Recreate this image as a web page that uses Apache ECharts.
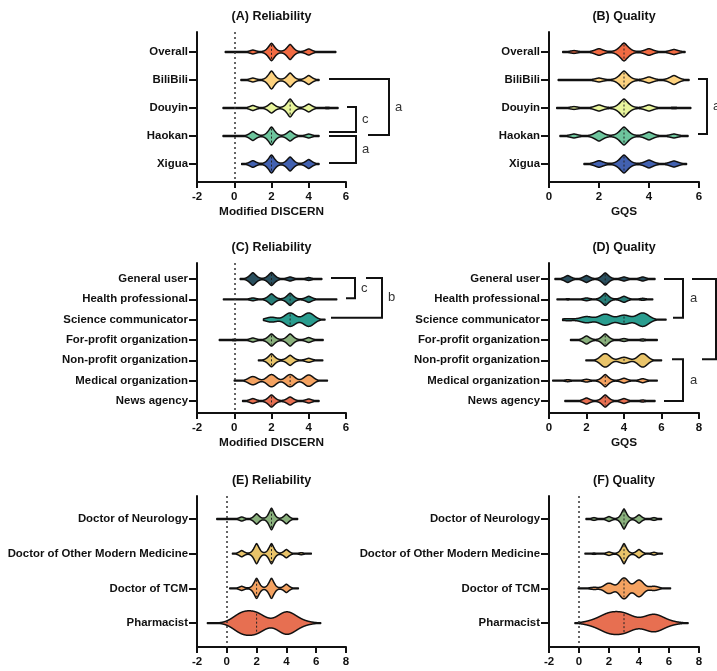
<!DOCTYPE html>
<html><head><meta charset="utf-8">
<script src="https://cdn.jsdelivr.net/npm/echarts@6/dist/echarts.min.js"></script>
<style>html,body{margin:0;padding:0;background:#fff}#c{width:717px;height:671px}</style>
</head><body><div id="c"></div>
<script>
// ---------- DATA ----------
// peak arrays: relative density at scores 0..6 (in row units)
const catsA = ['Overall','BiliBili','Douyin','Haokan','Xigua'];
const rangeA = [[-0.48,5.45],[0.36,4.55],[-0.6,5.57],[-0.6,4.55],[0.4,4.55]];
const peaksA = [
  [0,.07,.31,.27,.11,0,0],
  [0,.07,.32,.25,.16,0,0],
  [0,.09,.18,.32,.14,.03,0],
  [0,.16,.32,.18,.07,0,0],
  [0,.12,.32,.25,.16,0,0]];
const medianA = [2,2.5,3,2,2];
const bwA = [.25,.25,.25,.25,.25];

const catsB = catsA;
const rangeB = [[0.55,5.44],[0.37,5.6],[0.31,5.67],[0.44,5.56],[1.4,5.5]];
const peaksB = [
  [0,.05,.12,.32,.12,.09,0],
  [0,.02,.07,.32,.11,.16,0],
  [0,.05,.11,.32,.11,.03,0],
  [0,.07,.18,.32,.14,.07,0],
  [0,0,.12,.32,.14,.11,0]];
const medianB = [3,3,3,3,3];
const bwB = [.25,.25,.25,.25,.25];

const catsC = ['General user','Health professional','Science communicator','For-profit organization','Non-profit organization','Medical organization','News agency'];
const rangeC = [[0.32,4.7],[-0.58,5.5],[1.57,4.87],[-0.8,4.77],[1.3,4.75],[0,5.0],[0.45,4.55]];
const peaksC = [
  [0,.31,.32,.1,.07,0,0],
  [0,.07,.27,.3,.15,0,0],
  [0,0,.12,.33,.33,0,0],
  [.04,.1,.3,.3,.12,0,0],
  [0,0,.32,.25,.1,0,0],
  [0,.2,.3,.3,.28,0,0],
  [0,.12,.3,.2,.1,0,0]];
const medianC = [2,3,3,2,2,3,2];
const bwC = [.25,.25,.4,.25,.25,.33,.25];

const catsD = catsC;
const rangeD = [[0.32,5.65],[0.43,5.53],[0.73,6.24],[1.15,5.77],[1.97,6.0],[0.2,5.77],[0.85,5.65]];
const peaksD = [
  [0,.17,.17,.3,.1,.1,0],
  [0,.03,.07,.3,.15,.05,0],
  [0,.05,.15,.27,.22,.33,0],
  [0,0,.2,.3,.07,.05,0],
  [0,0,0,.33,.15,.33,0],
  [0,.05,.07,.3,.12,.1,0],
  [0,0,.15,.3,.12,.05,0]];
const medianD = [3,3,4,3,4,3,3];
const bwD = [.25,.25,.45,.25,.35,.25,.25];

const catsE = ['Doctor of Neurology','Doctor of Other Modern Medicine','Doctor of TCM','Pharmacist'];
const rangeE = [[-0.67,4.75],[0.38,5.67],[0.2,4.8],[-1.3,6.3]];
const peaksE = [
  [0,.06,.15,.31,.14,0,0],
  [0,.09,.29,.29,.12,.03,0],
  [0,.06,.29,.29,.12,0,0],
  [0,.25,.25,0,.31,.05,0]];
const medianE = [3,3,2,2];
const bwE = [.25,.25,.25,.85];

const catsF = catsE;
const rangeF = [[0.47,5.5],[0.4,5.56],[-0.05,6.1],[-0.27,7.27]];
const peaksF = [
  [0,.04,.07,.29,.12,.04,0],
  [0,.02,.05,.29,.12,.04,0],
  [0,.03,.15,.3,.24,.06,0],
  [0,.06,.23,.23,.05,.23,.04]];
const medianF = [3,3,3,3];
const bwF = [.25,.25,.42,.85];

const xTicksAC = [-2, 6];   // min, max
const xTicksB = [0, 6];
const xTicksD = [0, 8];
const xTicksEF = [-2, 8];

// ---------- STYLES ----------
const colA = ['#F26B43','#FDD27F','#E8F59C','#6DC59D','#4261B0'];
const colC = ['#2A4F5E','#287E78','#2A9D8F','#8AB17D','#E9C46A','#F4A261','#E76F51'];
const colE = ['#8AB17D','#E9C46A','#F4A261','#E76F51'];
const FONT = "'Liberation Sans', Arial, sans-serif";

const panels = [
  {cats:catsA, range:rangeA, peaks:peaksA, med:medianA, bw:bwA, col:colA, x:xTicksAC, title:'(A) Reliability', name:'Modified DISCERN', zero:true,
   grid:{left:197, top:32, width:149, height:150}, ymin:-0.714, ymax:4.643},
  {cats:catsB, range:rangeB, peaks:peaksB, med:medianB, bw:bwB, col:colA, x:xTicksB, title:'(B) Quality', name:'GQS', zero:false,
   grid:{left:549, top:32, width:150, height:150}, ymin:-0.714, ymax:4.643},
  {cats:catsC, range:rangeC, peaks:peaksC, med:medianC, bw:bwC, col:colC, x:xTicksAC, title:'(C) Reliability', name:'Modified DISCERN', zero:true,
   grid:{left:197, top:263, width:149, height:150}, ymin:-0.787, ymax:6.59},
  {cats:catsD, range:rangeD, peaks:peaksD, med:medianD, bw:bwD, col:colC, x:xTicksD, title:'(D) Quality', name:'GQS', zero:false,
   grid:{left:549, top:263, width:150, height:150}, ymin:-0.787, ymax:6.59},
  {cats:catsE, range:rangeE, peaks:peaksE, med:medianE, bw:bwE, col:colE, x:xTicksEF, title:'(E) Reliability', name:'', zero:true,
   grid:{left:197, top:496, width:149, height:151}, ymin:-0.663, ymax:3.69},
  {cats:catsF, range:rangeF, peaks:peaksF, med:medianF, bw:bwF, col:colE, x:xTicksEF, title:'(F) Quality', name:'', zero:true,
   grid:{left:549, top:496, width:150, height:151}, ymin:-0.663, ymax:3.69}
];

function makeRender(p){
  return function(params, api){
    const i = params.dataIndex;
    const cat = api.value(1);
    const lo = p.range[i][0], hi = p.range[i][1];
    const pk = p.peaks[i], bw = p.bw[i];
    const ex = bw < 0.3 ? 1.5 : 2;
    const unit = Math.abs(api.size([0,1])[1]);
    const dens = x => { let s = 0; for (let k = 0; k < pk.length; k++) { if (pk[k] > 0) s += pk[k] * Math.exp(-Math.pow(Math.abs(x - k) / bw, ex)); } return s; };
    const n = Math.ceil((hi - lo) / 0.01);
    const top = [], bot = [];
    for (let j = 0; j <= n; j++) {
      const x = lo + (hi - lo) * j / n;
      const c = api.coord([x, cat]);
      const h = Math.max(dens(x) * unit, 0.4);
      top.push([c[0], c[1] - h]); bot.push([c[0], c[1] + h]);
    }
    const pts = top.concat(bot.reverse());
    const mc = api.coord([p.med[i], cat]);
    const mh = dens(p.med[i]) * unit;
    const children = [
      {type:'polygon', shape:{points:pts}, style:{fill:p.col[i], stroke:'#111', lineWidth:1.5, lineJoin:'round'}}
    ];
    if (mh > 2.5) children.push({type:'line', shape:{x1:mc[0], y1:mc[1]-mh+1.5, x2:mc[0], y2:mc[1]+mh-1.5}, style:{stroke:'#222', lineWidth:1, lineDash:[2,2]}});
    return {type:'group', children};
  };
}

const grids = [], xAxes = [], yAxes = [], series = [], titles = [];
panels.forEach((p, g) => {
  grids.push(Object.assign({containLabel:false}, p.grid));
  titles.push({text:p.title, left:p.grid.left + p.grid.width/2, top: p.grid.top - 22, textAlign:'center', padding:0,
    textStyle:{fontFamily:FONT, fontWeight:'bold', fontSize:12.5, color:'#111'}});
  xAxes.push({type:'value', gridIndex:g, min:p.x[0], max:p.x[1], interval:2, position:'bottom',
    axisLine:{show:true, onZero:false, lineStyle:{color:'#111', width:2}},
    axisTick:{show:true, length:6, lineStyle:{color:'#111', width:2}},
    axisLabel:{fontFamily:FONT, fontWeight:'bold', fontSize:11.5, color:'#111', margin:9},
    splitLine:{show:false},
    name:p.name, nameLocation:'middle', nameGap:24,
    nameTextStyle:{fontFamily:FONT, fontWeight:'bold', fontSize:11.8, color:'#111'}});
  const idx = p.cats.map((c, i) => i);
  yAxes.push({type:'value', gridIndex:g, inverse:true, min:p.ymin, max:p.ymax, position:'left',
    axisLine:{show:true, onZero:false, lineStyle:{color:'#111', width:2}},
    axisTick:{show:true, length:8, customValues:idx, lineStyle:{color:'#111', width:2}},
    axisLabel:{show:true, customValues:idx, formatter:v => p.cats[Math.round(v)], fontFamily:FONT, fontWeight:'bold', fontSize:11.4, color:'#111', margin:9},
    splitLine:{show:false}});
  const s = {type:'custom', xAxisIndex:g, yAxisIndex:g, renderItem:makeRender(p),
    data:p.cats.map((c, i) => [p.range[i][0], i]), encode:{x:0, y:1}, silent:true, animation:false, z:3};
  series.push(s);
  if (p.zero) series.push({type:'line', xAxisIndex:g, yAxisIndex:g, data:[], silent:true, z:1,
    markLine:{silent:true, symbol:'none', label:{show:false}, animation:false,
      lineStyle:{type:[2,3], color:'#333', width:1.5}, data:[{xAxis:0}]}});
});

const chart = echarts.init(document.getElementById('c'), null, {renderer:'canvas'});
chart.setOption({animation:false, backgroundColor:'#fff', title:titles, grid:grids, xAxis:xAxes, yAxis:yAxes, series});

// significance brackets: [panel, topCat, topDy, topX0, bottomCat, bottomDy, bottomX0, vertX, label, labelX]
const brackets = [
  [0, 1, -1, 329, 3, -1, 368, 389, 'a', 395],
  [0, 2, -1, 347, 3, -4, 329, 356, 'c', 362],
  [0, 3, 0, 329, 4, -1, 329, 356, 'a', 362],
  [1, 1, -1, 698, 3, -2, 698, 707, 'a', 713],
  [2, 0, -1, 331, 1, -1, 346, 355, 'c', 361],
  [2, 0, -1, 366, 2, -2, 331, 382, 'b', 388],
  [3, 0, 0, 664, 2, -2, 673, 683, 'a', 690],
  [3, 0, 0, 692, 4, -1, 702, 716, '', 0],
  [3, 4, -1, 672, 6, 0, 664, 683, 'a', 690]
];
const gfx = [];
brackets.forEach(b => {
  const yT = chart.convertToPixel({xAxisIndex:b[0], yAxisIndex:b[0]}, [0, b[1]])[1] + b[2];
  const yB = chart.convertToPixel({xAxisIndex:b[0], yAxisIndex:b[0]}, [0, b[4]])[1] + b[5];
  gfx.push({type:'polyline', shape:{points:[[b[3], yT],[b[7], yT],[b[7], yB],[b[6], yB]]},
    style:{stroke:'#111', lineWidth:2, fill:null}, silent:true});
  if (b[8]) gfx.push({type:'text', x:b[9], y:(yT + yB)/2, silent:true,
    style:{text:b[8], fill:'#333', font:"13px 'Liberation Sans', Arial, sans-serif", verticalAlign:'middle', align:'left'}});
});
chart.setOption({graphic:gfx});
</script>
</body></html>
